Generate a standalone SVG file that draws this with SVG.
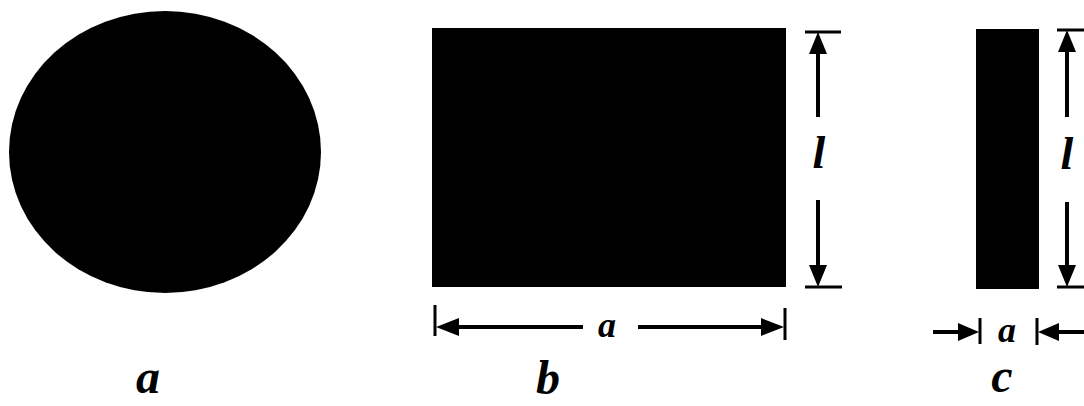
<svg xmlns="http://www.w3.org/2000/svg" width="1084" height="406" viewBox="0 0 1084 406">
<style>
.shape{fill:#000}
.dim{stroke:#000;stroke-width:4;fill:none}
.tick{stroke:#000;stroke-width:3;fill:none}
.head{fill:#000}
.lbl{font-family:"Liberation Serif",serif;font-style:italic;font-weight:bold;fill:#000;text-anchor:middle}
.big{font-size:48px}
.dl{font-size:46px}
.da{font-size:36px}
</style>
<rect width="1084" height="406" fill="#fff"/>
<g id="shape-a">
<ellipse class="shape" cx="165" cy="152" rx="156" ry="141"/>
<text class="lbl big" x="148" y="393">a</text>
</g>
<g id="shape-b">
<rect class="shape" x="432" y="28" width="354" height="259"/>
<text class="lbl big" x="548" y="394">b</text>
</g>
<g id="shape-c">
<rect class="shape" x="976" y="29" width="63" height="260"/>
<text class="lbl big" x="1002" y="392">c</text>
</g>
<g id="connectors">
<line class="tick" x1="805" y1="32" x2="841" y2="32"/>
<line class="tick" x1="805" y1="287" x2="842" y2="287"/>
<line class="dim" x1="818" y1="50" x2="818" y2="117"/>
<line class="dim" x1="818" y1="200" x2="818" y2="269"/>
<polygon class="head" points="818,32 809,54 827,54"/>
<polygon class="head" points="818,287 809,265 827,265"/>
<text class="lbl dl" x="819" y="168">l</text>
<line class="tick" x1="435" y1="305" x2="435" y2="336"/>
<line class="tick" x1="785" y1="308" x2="785" y2="340"/>
<line class="dim" x1="455" y1="327" x2="583" y2="327"/>
<line class="dim" x1="638" y1="327" x2="765" y2="327"/>
<polygon class="head" points="436,327 459,318 459,336"/>
<polygon class="head" points="784,327 761,318 761,336"/>
<text class="lbl da" x="607" y="337">a</text>
<line class="tick" x1="1057" y1="30" x2="1084" y2="30"/>
<line class="tick" x1="1057" y1="287" x2="1084" y2="287"/>
<line class="dim" x1="1067" y1="48" x2="1067" y2="117"/>
<line class="dim" x1="1067" y1="202" x2="1067" y2="269"/>
<polygon class="head" points="1067,30 1058,52 1076,52"/>
<polygon class="head" points="1067,287 1058,265 1076,265"/>
<text class="lbl dl" x="1067" y="169">l</text>
<line class="tick" x1="980" y1="318" x2="980" y2="344"/>
<line class="tick" x1="1037" y1="318" x2="1037" y2="345"/>
<line class="dim" x1="933" y1="332" x2="962" y2="332"/>
<line class="dim" x1="1055" y1="332" x2="1084" y2="332"/>
<polygon class="head" points="979,332 958,323 958,341"/>
<polygon class="head" points="1038,332 1059,323 1059,341"/>
<text class="lbl da" x="1007" y="342">a</text>
</g>
</svg>
